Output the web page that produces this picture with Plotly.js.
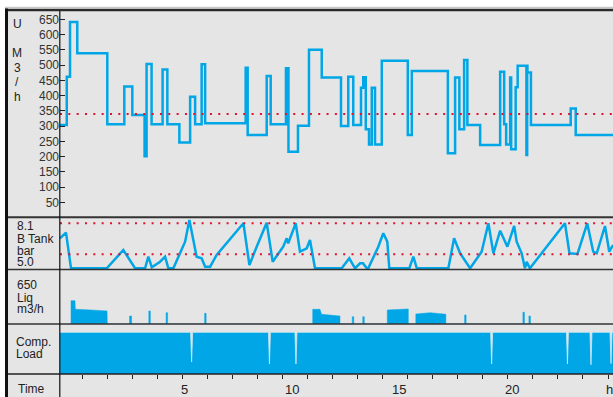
<!DOCTYPE html>
<html><head><meta charset="utf-8">
<script src="https://cdn.plot.ly/plotly-3.0.1.min.js"></script>
<style>html,body{margin:0;padding:0;background:#fff;}#chart{width:613px;height:397px;}</style>
</head><body><div id="chart"></div>
<script>
// ---------- DATA (x in hours of the tick grid) ----------
const umX = [0.10,0.37,0.50,0.79,1.99,2.67,2.99,3.48,3.56,3.76,4.20,4.39,4.87,5.30,5.50,5.76,5.90,7.52,7.60,8.36,8.52,9.13,9.23,9.61,10.05,10.56,11.33,11.62,11.82,12.13,12.22,12.32,12.45,12.56,12.69,12.96,14.00,14.16,15.60,15.89,16.06,16.25,16.38,16.89,17.69,17.85,17.93,18.09,18.13,18.31,18.39,18.74,18.77,18.78,18.92,20.51,20.71,22.20];
const umY = [304,462,641,539,306,430,336,201,504,306,486,306,246,396,306,503,309,491,271,464,306,490,216,301,550,459,300,462,304,426,460,290,240,426,240,514,271,481,211,459,290,517,304,238,478,306,240,459,224,427,498,205,498,476,304,358,271,271];
const umRef = 340;
const umTicks = [50,100,150,200,250,300,350,400,450,500,550,600,650];

const tankX = [0.10,0.34,0.54,1.97,2.63,3.10,3.50,3.63,3.77,4.10,4.30,4.43,4.63,5.10,5.27,5.56,5.76,5.90,6.10,6.36,7.43,7.67,7.96,8.36,8.60,9.02,9.16,9.22,9.52,9.69,9.96,10.09,10.29,11.36,11.66,11.89,12.09,12.21,12.36,12.42,12.82,12.96,13.02,13.18,13.26,14.06,14.22,14.36,15.62,15.85,16.09,16.49,16.82,16.95,17.22,17.42,17.69,17.98,18.11,18.25,18.35,18.55,18.68,18.75,18.88,20.28,20.46,20.78,21.17,21.41,21.55,21.88,22.05,22.20];
const tankY = [6.6,7.16,3.6,3.6,5.43,3.6,3.6,4.76,3.7,4.26,4.76,3.6,3.6,6.26,8.43,4.76,4.6,3.76,3.76,4.93,8.1,3.93,5.76,8.16,4.26,5.76,6.6,6.1,8.1,5.26,5.6,6.43,3.6,3.6,4.6,3.6,4.1,4.1,3.6,3.6,5.76,6.6,7.1,6.26,3.6,3.6,4.76,3.6,3.6,6.6,5.1,3.6,4.76,5.26,8.1,5.1,7.36,5.76,6.76,7.83,6.26,5.1,3.6,4.26,3.6,8.1,5.1,5.03,8.1,5.26,5.1,7.83,5.26,5.93];
const tankHigh = 8.1;
const tankLow = 5.0;

const liqX = [0.54,0.54,0.70,0.71,1.30,1.98,1.99, 2.88,2.88,2.96,2.96, 3.65,3.65,3.71,3.71, 4.34,4.34,4.40,4.40, 5.88,5.88,5.94,5.94, 10.20,10.20,10.49,10.55,11.29,11.29, 11.78,11.78,11.84,11.84, 12.20,12.20,12.26,12.26, 13.18,13.18,14.02,14.02, 14.32,14.32,14.89,15.52,15.52, 16.27,16.27,16.33,16.33, 18.60,18.60,18.66,18.66, 18.84,18.84,18.90,18.90];
const liqY = [0,281,281,177,170,157,0, 0,96,96,0, 0,157,157,0, 0,136,136,0, 0,128,128,0, 0,177,177,117,96,0, 0,88,88,0, 0,88,88,0, 0,169,181,0, 0,120,136,117,0, 0,108,108,0, 0,141,141,0, 0,96,96,0];

const loadX = [0.10,5.32,5.36,5.40,8.43,8.47,8.51,9.49,9.53,9.57,17.31,17.35,17.39,20.34,20.38,20.42,21.28,21.32,21.36,22.08,22.12,22.16,22.20];
const loadY = [100,100,29,100,100,24,100,100,24,100,100,24,100,100,24,100,100,22,100,100,25,100,100];

const timeLabels = ['5','10','15','20','h'];
const timeLabelPos = [5.06,9.36,13.65,18.17,22.04];

// ---------- LAYOUT HELPERS ----------
const W=613, H=397, ML=60, MT=11, MB=23;
const PH = H-MT-MB;
const px = v => (v-ML)/(W-ML);
const py = v => (H-MB-v)/PH;
const XR = [0.10, 22.20];
const BLUE = '#00a6e6', RED = '#e3102e';
const FONT = 'Liberation Sans, Arial, sans-serif';

const traces = [
  {x: umX, y: umY, xaxis:'x', yaxis:'y', mode:'lines', line:{shape:'hv', color:BLUE, width:2.5}, hoverinfo:'skip'},
  {x: XR, y:[umRef,umRef], xaxis:'x', yaxis:'y', mode:'lines', line:{color:RED, width:2, dash:'2px,6.33px'}, hoverinfo:'skip'},
  {x: tankX, y: tankY, xaxis:'x', yaxis:'y2', mode:'lines', line:{color:BLUE, width:2.5}, hoverinfo:'skip'},
  {x: XR, y:[tankHigh,tankHigh], xaxis:'x', yaxis:'y2', mode:'lines', line:{color:RED, width:2, dash:'2px,6.33px'}, hoverinfo:'skip'},
  {x: XR, y:[tankLow,tankLow], xaxis:'x', yaxis:'y2', mode:'lines', line:{color:RED, width:2, dash:'2px,6.33px'}, hoverinfo:'skip'},
  {x: liqX, y: liqY, xaxis:'x', yaxis:'y3', mode:'lines', fill:'tozeroy', fillcolor:BLUE, line:{color:BLUE, width:0.5}, hoverinfo:'skip'},
  {x: loadX, y: loadY, xaxis:'x', yaxis:'y4', mode:'lines', fill:'tozeroy', fillcolor:BLUE, line:{color:'#cfe6f0', width:0.8}, hoverinfo:'skip'}
];

const noAx = {showgrid:false, zeroline:false, showline:false, ticks:'', showticklabels:false, fixedrange:true};

const ann = (text, xp, yp, anchor) => ({text, x:px(xp), y:py(yp), xref:'paper', yref:'paper', xanchor:anchor||'left', yanchor:'middle', showarrow:false, font:{family:FONT, size:12, color:'#222'}});

const timeAnns = timeLabels.map((t,i) => ({text:t, x:timeLabelPos[i], xref:'x', y:py(389), yref:'paper', xanchor:'center', yanchor:'middle', showarrow:false, font:{family:FONT, size:13, color:'#222'}}));

const layout = {
  width:W, height:H,
  margin:{l:ML, r:0, t:MT, b:MB, pad:0},
  paper_bgcolor:'#ffffff', plot_bgcolor:'#e5e5e5',
  showlegend:false,
  font:{family:FONT, color:'#222'},
  xaxis: Object.assign({}, noAx, {range:XR, anchor:'y4', tickmode:'linear', tick0:0, dtick:1, ticks:'outside', ticklen:4, tickwidth:1, tickcolor:'#222'}),
  yaxis: Object.assign({}, noAx, {domain:[py(217),1], range:[1.97,677.4], anchor:'x', tickmode:'array', tickvals:umTicks, ticks:'inside', ticklen:5, tickwidth:1, tickcolor:'#222', showticklabels:true, tickfont:{family:FONT, size:12, color:'#333'}}),
  yaxis2: Object.assign({}, noAx, {domain:[py(269.5),py(217)], range:[3.48,8.73], anchor:'x'}),
  yaxis3: Object.assign({}, noAx, {domain:[py(324),py(269.5)], range:[0,656], anchor:'x'}),
  yaxis4: Object.assign({}, noAx, {domain:[0,py(324)], range:[0,120], anchor:'x'}),
  shapes: [
    {type:'rect', xref:'paper', yref:'paper', x0:px(8), x1:px(W), y0:py(H), y1:py(11), fillcolor:'#e5e5e5', line:{width:0}, layer:'below'},
    {type:'line', xref:'paper', yref:'paper', x0:px(5), x1:px(W), y0:py(7.5), y1:py(7.5), line:{color:'#c8c8c8', width:1.5}},
    {type:'line', xref:'paper', yref:'paper', x0:px(5), x1:px(W), y0:py(10), y1:py(10), line:{color:'#2a2a2a', width:2.5}},
    {type:'line', xref:'paper', yref:'paper', x0:px(6.5), x1:px(6.5), y0:py(8.5), y1:py(H), line:{color:'#111', width:3}},
    {type:'line', xref:'paper', yref:'paper', x0:px(8), x1:px(W), y0:py(217.2), y1:py(217.2), line:{color:'#333', width:2}},
    {type:'line', xref:'paper', yref:'paper', x0:px(8), x1:px(W), y0:py(269.4), y1:py(269.4), line:{color:'#333', width:1.5}},
    {type:'line', xref:'paper', yref:'paper', x0:px(8), x1:px(W), y0:py(324), y1:py(324), line:{color:'#333', width:1.5}},
    {type:'line', xref:'paper', yref:'paper', x0:px(8), x1:px(W), y0:py(374), y1:py(374), line:{color:'#222', width:1.5}},
    {type:'line', xref:'paper', yref:'paper', x0:px(59.8), x1:px(59.8), y0:py(11), y1:py(H), line:{color:'#111', width:1.2}}
  ],
  annotations: [
    ann('U',17,24,'center'), ann('M',17,53.3,'center'), ann('3',17,67.7,'center'), ann('/',17,81.7,'center'), ann('h',17,96.7,'center'),
    ann('8.1',14.5,226), ann('B Tank',14.5,239.3), ann('bar',14.5,250.5), ann('5.0',14.5,262.3),
    ann('650',14.5,285), ann('Liq',14.5,297.5), ann('m3/h',14.5,309.3),
    ann('Comp.',14,341.7), ann('Load',14,354),
    ann('Time',15.5,389)
  ].concat(timeAnns)
};

Plotly.newPlot('chart', traces, layout, {staticPlot:true, displayModeBar:false});
</script></body></html>
